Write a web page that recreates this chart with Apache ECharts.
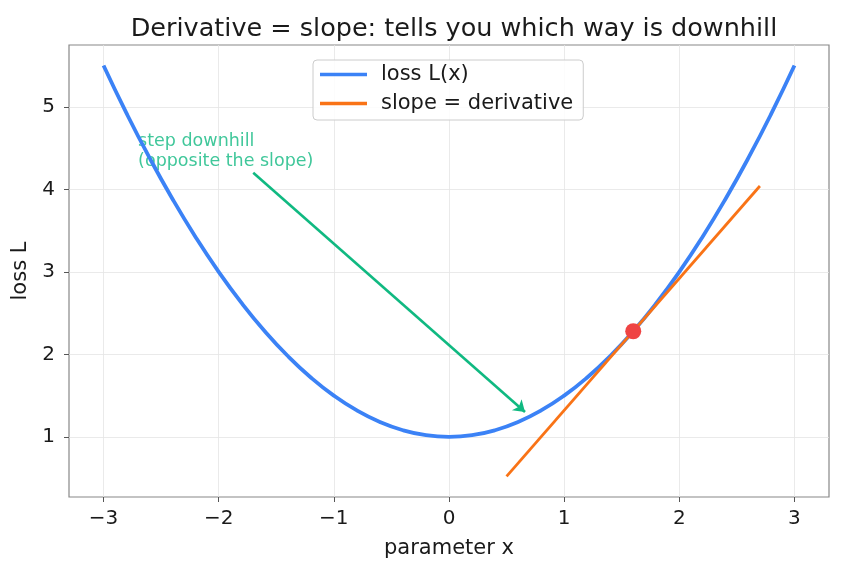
<!DOCTYPE html>
<html>
<head>
<meta charset="utf-8">
<script src="https://cdn.jsdelivr.net/npm/echarts@6/dist/echarts.min.js"></script>
<style>
  html, body { margin: 0; padding: 0; background: #fff; }
  #chart { width: 842px; height: 573px; }
</style>
</head>
<body>
<div id="chart"></div>
<script>
// values
const xValues = [-3, -2.8, -2.6, -2.4, -2.2, -2, -1.8, -1.6, -1.4, -1.2, -1, -0.8, -0.6, -0.4, -0.2,
  0, 0.2, 0.4, 0.6, 0.8, 1, 1.2, 1.4, 1.6, 1.8, 2, 2.2, 2.4, 2.6, 2.8, 3];
const lossValues = [5.5, 4.92, 4.38, 3.88, 3.42, 3.0, 2.62, 2.28, 1.98, 1.72, 1.5, 1.32, 1.18, 1.08, 1.02,
  1.0, 1.02, 1.08, 1.18, 1.32, 1.5, 1.72, 1.98, 2.28, 2.62, 3.0, 3.42, 3.88, 4.38, 4.92, 5.5];
const slopeX = [0.5, 2.7];
const slopeY = [0.52, 4.04];
const pointXY = [1.6, 2.28];
const arrowFrom = [-1.7, 4.2];
const arrowTo = [0.66, 1.3];
const noteXY = [-2.7, 4.7];
const xTicks = [-3, -2, -1, 0, 1, 2, 3];
const yTicks = [1, 2, 3, 4, 5];

const chart = echarts.init(document.getElementById("chart"));
const font = "DejaVu Sans";
const minus = (v) => String(v).replace("-", "\u2212");

const option = {
  backgroundColor: "#fff",
  animation: false,
  textStyle: { fontFamily: font },
  title: {
    text: "Derivative = slope: tells you which way is downhill",
    left: 449,
    textAlign: "center",
    top: 11,
    textStyle: { fontFamily: font, fontSize: 25.5, fontWeight: "normal", color: "#1a1a1a" },
  },
  legend: {
    data: [
      { name: "loss L(x)", icon: "rect", itemStyle: { color: "#3b82f6" } },
      { name: "slope = derivative", icon: "rect", itemStyle: { color: "#f97316" } },
    ],
    orient: "vertical",
    left: 313,
    top: 60,
    padding: [4, 10, 6, 7],
    itemWidth: 47,
    itemHeight: 3.5,
    itemGap: 8,
    borderColor: "#ccc",
    borderWidth: 1,
    borderRadius: 4,
    backgroundColor: "rgba(255,255,255,0.85)",
    textStyle: { fontFamily: font, fontSize: 21, color: "#1a1a1a", padding: [0, 0, 0, 9] },
  },
  grid: {
    left: 69,
    right: 13,
    top: 45,
    bottom: 76,
    show: true,
    borderColor: "#888",
    borderWidth: 1.2,
  },
  xAxis: {
    type: "value",
    min: -3.3,
    max: 3.3,
    name: "parameter x",
    nameLocation: "middle",
    nameGap: 41,
    nameTextStyle: { fontFamily: font, fontSize: 21, color: "#1a1a1a" },
    axisLine: { show: false, onZero: false },
    axisTick: { show: true, length: 5, customValues: xTicks, lineStyle: { color: "#555" } },
    axisLabel: { customValues: xTicks, margin: 12, fontSize: 20, color: "#1a1a1a", formatter: minus },
    splitLine: { show: true, lineStyle: { color: "#e4e4e4", width: 0.8 } },
  },
  yAxis: {
    type: "value",
    min: 0.271,
    max: 5.749,
    name: "loss L",
    nameLocation: "middle",
    nameGap: 36,
    nameRotate: 90,
    nameTextStyle: { fontFamily: font, fontSize: 21, color: "#1a1a1a" },
    axisLine: { show: false, onZero: false },
    axisTick: { show: true, length: 5, customValues: yTicks, lineStyle: { color: "#555" } },
    axisLabel: { customValues: yTicks, margin: 14, fontSize: 20, color: "#1a1a1a" },
    splitLine: { show: true, lineStyle: { color: "#e4e4e4", width: 0.8 } },
  },
  series: [
    {
      name: "loss L(x)",
      type: "line",
      data: xValues.map((x, i) => [x, lossValues[i]]),
      smooth: true,
      symbol: "none",
      lineStyle: { color: "#3b82f6", width: 3.8 },
      itemStyle: { color: "#3b82f6" },
      z: 2,
    },
    {
      name: "slope = derivative",
      type: "line",
      data: slopeX.map((x, i) => [x, slopeY[i]]),
      symbol: "none",
      lineStyle: { color: "#f97316", width: 2.8 },
      itemStyle: { color: "#f97316" },
      z: 3,
    },
    {
      name: "point",
      type: "scatter",
      data: [pointXY],
      symbolSize: 16,
      itemStyle: { color: "#ef4444", opacity: 1 },
      z: 4,
    },
    {
      name: "arrow",
      type: "line",
      data: [],
      markLine: {
        silent: true,
        symbol: ["none", "arrow"],
        symbolSize: 11,
        label: { show: false },
        lineStyle: { color: "#10b981", width: 2.6, type: "solid" },
        data: [[{ coord: arrowFrom }, { coord: arrowTo }]],
      },
    },
    {
      name: "note",
      type: "scatter",
      data: [noteXY],
      symbolSize: 0,
      label: {
        show: true,
        position: [0, 0],
        align: "left",
        verticalAlign: "top",
        formatter: "step downhill\n(opposite the slope)",
        fontFamily: font,
        fontSize: 17.5,
        lineHeight: 20,
        color: "#10b981",
      },
      z: 1,
    },
  ],
};

chart.setOption(option);
</script>
</body>
</html>
